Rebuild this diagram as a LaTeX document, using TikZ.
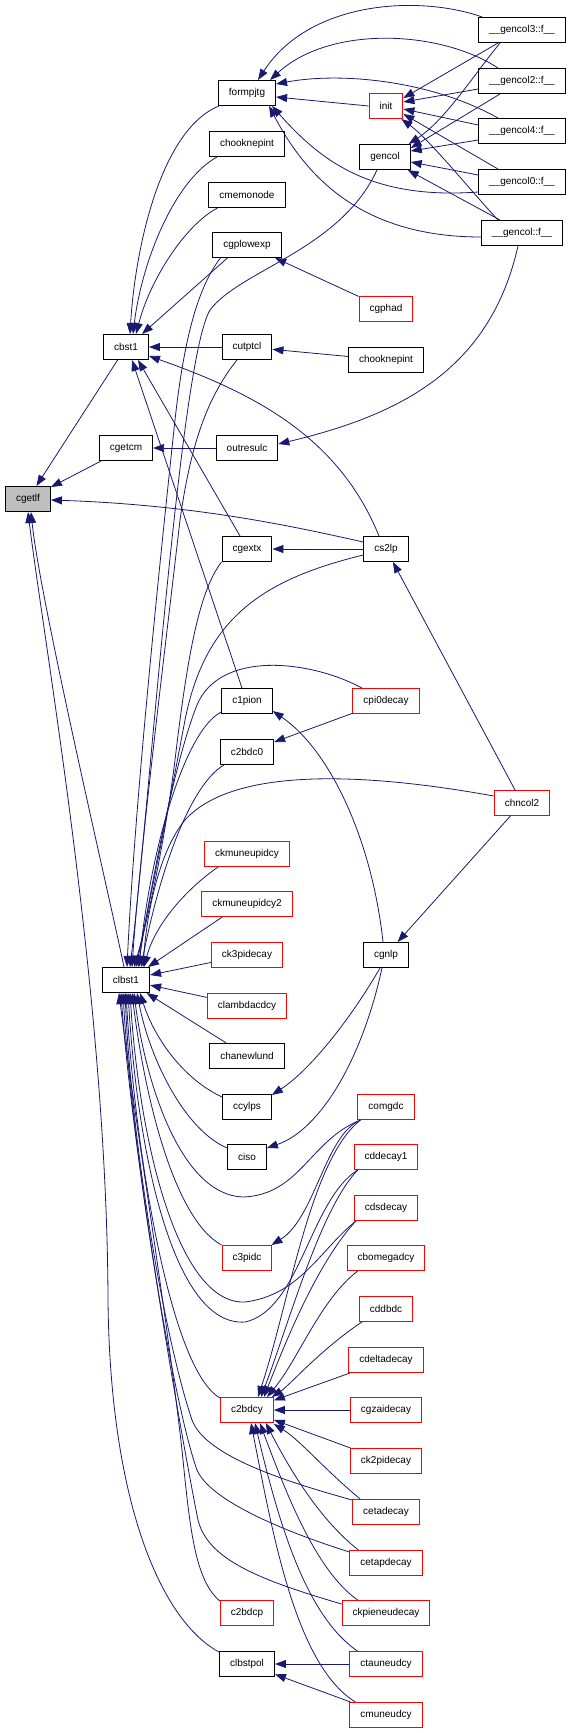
\documentclass[tikz,border=0pt]{standalone}
\usepackage{fontspec}
\setmainfont{Liberation Sans}
\usetikzlibrary{arrows.meta}
\definecolor{edgec}{HTML}{191970}
\definecolor{rootfill}{HTML}{BFBFBF}
\tikzset{
 box/.style={draw=black, line width=1pt, minimum height=25pt, inner xsep=10.5pt, inner ysep=0pt, font=\fontsize{10}{12}\selectfont, fill=white},
 redbox/.style={box, draw=red},
 e/.style={draw=edgec, line width=0.8pt, -{Triangle[length=11pt,width=8pt]}},
}
\begin{document}
\begin{tikzpicture}[x=1pt,y=-1pt]
\useasboundingbox (0,0) rectangle (572,1733);
% column 0/1
\node[box, fill=rootfill] (cgetlf) at (28,499) {cgetlf};
\node[box] (cbst1) at (126,347) {cbst1};
\node[box] (cgetcm) at (126,448) {cgetcm};
\node[box] (clbst1) at (126,980) {clbst1};
% column 2
\node[box] (formpjtg) at (247,93) {formpjtg};
\node[box] (chookA) at (247,144) {chooknepint};
\node[box] (cmemonode) at (247,195) {cmemonode};
\node[box] (cgplowexp) at (247,245) {cgplowexp};
\node[box] (cutptcl) at (247,347) {cutptcl};
\node[box] (outresulc) at (247,448) {outresulc};
\node[box] (cgextx) at (247,549) {cgextx};
\node[box] (c1pion) at (247,701) {c1pion};
\node[box] (c2bdc0) at (247,752) {c2bdc0};
\node[redbox] (ckmu) at (247,854) {ckmuneupidcy};
\node[redbox] (ckmu2) at (247,904) {ckmuneupidcy2};
\node[redbox] (ck3) at (247,955) {ck3pidecay};
\node[redbox] (clam) at (247,1006) {clambdacdcy};
\node[box] (chanewlund) at (247,1056) {chanewlund};
\node[box] (ccylps) at (247,1107) {ccylps};
\node[box] (ciso) at (247,1157) {ciso};
\node[redbox] (c3pidc) at (247,1258) {c3pidc};
\node[redbox] (c2bdcy) at (247,1410) {c2bdcy};
\node[redbox] (c2bdcp) at (247,1613) {c2bdcp};
\node[box] (clbstpol) at (247,1664) {clbstpol};
% column 3
\node[redbox] (init) at (386,106) {init};
\node[box] (gencol) at (385,157) {gencol};
\node[redbox] (cgphad) at (386,309) {cgphad};
\node[box] (chookB) at (386,360) {chooknepint};
\node[box] (cs2lp) at (386,549) {cs2lp};
\node[redbox] (cpi0decay) at (386,701) {cpi0decay};
\node[box] (cgnlp) at (386,955) {cgnlp};
\node[redbox] (comgdc) at (386,1107) {comgdc};
\node[redbox] (cdd1) at (386,1157) {cddecay1};
\node[redbox] (cds) at (386,1208) {cdsdecay};
\node[redbox] (cbom) at (386,1258) {cbomegadcy};
\node[redbox] (cddbdc) at (386,1309) {cddbdc};
\node[redbox] (cdelta) at (386,1360) {cdeltadecay};
\node[redbox] (cgzai) at (386,1410) {cgzaidecay};
\node[redbox] (ck2pi) at (386,1461) {ck2pidecay};
\node[redbox] (cetad) at (386,1512) {cetadecay};
\node[redbox] (cetap) at (386,1563) {cetapdecay};
\node[redbox] (ckpie) at (386,1613) {ckpieneudecay};
\node[redbox] (ctau) at (386,1664) {ctauneudcy};
\node[redbox] (cmu) at (386,1715) {cmuneudcy};
% column 4
\node[box] (g3) at (522,30) {\_\_gencol3::f\_\_};
\node[box] (g2) at (522,81) {\_\_gencol2::f\_\_};
\node[box] (g4) at (522,131) {\_\_gencol4::f\_\_};
\node[box] (g0) at (522,182) {\_\_gencol0::f\_\_};
\node[box] (gf) at (522,233) {\_\_gencol::f\_\_};
\node[redbox] (chncol2) at (522,803) {chncol2};

% ---- top cluster
\draw[e] ([xshift=4pt]g3.north west) .. controls (420,-5) and (310,0) .. ([xshift=11pt]formpjtg.north);
\draw[e] ([xshift=-24pt]g2.north) .. controls (440,30) and (330,25) .. ([xshift=-6pt]formpjtg.north east);
\draw[e] ([xshift=-24pt]g4.north) .. controls (430,80) and (340,72) .. ([yshift=9pt]formpjtg.east);
\draw[e] (init.west) -- ([yshift=-4pt]formpjtg.east);
\draw[e] ([yshift=3pt]g0.south west) .. controls (370,200) and (320,160) .. ([xshift=-4pt]formpjtg.south east);
\draw[e] ([yshift=-4pt]gf.west) .. controls (360,237) and (305,175) .. ([xshift=-7pt]formpjtg.south east);
\draw[e] ([xshift=-24pt]g3.south) -- ([yshift=8pt]init.east);
\draw[e] ([yshift=-8pt]g2.west) -- ([yshift=4pt]init.east);
\draw[e] ([yshift=6pt]g4.west) -- ([yshift=-3pt]init.east);
\draw[e] ([xshift=-24pt]g0.north) -- ([yshift=-8pt]init.east);
\draw[e] ([xshift=-24pt]gf.north) .. controls (470,190) and (430,140) .. ([xshift=-2pt]init.south east);
\draw[e] ([xshift=-22pt]g3.south) .. controls (470,80) and (445,120) .. ([xshift=-2pt]gencol.north east);
\draw[e] ([xshift=-22pt]g2.south) -- ([yshift=-4pt]gencol.north east);
\draw[e] ([yshift=-9pt]g4.west) -- ([yshift=6pt]gencol.east);
\draw[e] ([yshift=7pt]g0.west) -- ([yshift=-5pt]gencol.east);
\draw[e] ([xshift=-22pt]gf.north) -- ([xshift=-3pt]gencol.south east);
\draw[e] ([xshift=-4pt]gf.south) .. controls (490,370) and (400,415) .. ([yshift=4pt]outresulc.east);
\draw[e] ([xshift=-8pt]gencol.south) .. controls (340,250) and (240,270) .. (210,310) .. controls (180,360) and (150,800) .. ([xshift=4pt]clbst1.north);

% ---- into cbst1
\draw[e] ([xshift=1pt]formpjtg.south west) .. controls (160,130) and (135,250) .. ([xshift=4pt]cbst1.north);
\draw[e] ([xshift=8pt]chookA.south west) .. controls (175,180) and (142,260) .. ([xshift=7pt]cbst1.north);
\draw[e] ([xshift=9pt]cmemonode.south west) .. controls (185,225) and (150,280) .. ([xshift=10pt]cbst1.north);
\draw[e] ([xshift=15pt]cgplowexp.south west) -- ([xshift=16pt]cbst1.north);
\draw[e] ([xshift=8pt]cgplowexp.south west) .. controls (200,285) and (185,330) .. (175,420) .. controls (160,560) and (135,800) .. ([xshift=1pt]clbst1.north);
\draw[e] (cutptcl) -- (cbst1);
\draw[e] ([xshift=-10pt]cutptcl.south) .. controls (205,400) and (190,450) .. (180,520) .. controls (165,650) and (140,850) .. ([xshift=6pt]clbst1.north);
\draw[e] ([xshift=-7pt]cs2lp.north) .. controls (340,440) and (260,395) .. ([yshift=-9pt]cbst1.east);
\draw[e] ([xshift=-7pt]cgextx.north) -- ([xshift=12pt]cbst1.south);
\draw[e] ([xshift=-5pt]c1pion.north) -- ([xshift=6pt]cbst1.south);
\draw[e] (outresulc) -- (cgetcm);
\draw[e] (chookB) -- (cutptcl);
\draw[e] (cgphad) -- (cgplowexp);
\draw[e] (cbst1) -- (cgetlf);
\draw[e] (cgetcm) -- (cgetlf);
\draw[e] ([yshift=7pt]cs2lp.west) .. controls (300,528) and (200,505) .. ([yshift=-1pt]cgetlf.east);
\draw[e] (cs2lp) -- (cgextx);
\draw[e] ([yshift=-6pt]cs2lp.west) .. controls (260,580) and (205,620) .. (185,720) .. controls (170,800) and (150,900) .. ([xshift=10pt]clbst1.north);
\draw[e] (cgextx.south west) .. controls (200,590) and (188,650) .. (175,760) .. controls (165,840) and (148,920) .. ([xshift=8pt]clbst1.north);
\draw[e] ([xshift=-24pt]cpi0decay.north) .. controls (310,660) and (220,650) .. (197,705) .. controls (175,760) and (152,880) .. ([xshift=12pt]clbst1.north);
\draw[e] (cpi0decay) -- (c2bdc0);
\draw[e] ([yshift=-11pt]c1pion.west) .. controls (185,730) and (150,850) .. ([xshift=13pt]clbst1.north);
\draw[e] ([xshift=4pt]c2bdc0.south west) .. controls (190,785) and (160,870) .. ([xshift=15pt]clbst1.north);
\draw[e] ([yshift=7pt]chncol2.west) .. controls (350,770) and (230,770) .. (185,820) .. controls (160,850) and (147,910) .. ([xshift=17pt]clbst1.north);
\draw[e] (chncol2) -- (cs2lp);
\draw[e] (chncol2) -- (cgnlp);
\draw[e] ([xshift=-3pt]cgnlp.north) .. controls (372,840) and (330,750) .. ([yshift=-10pt]c1pion.east);
\draw[e] ([xshift=-6pt]cgnlp.south) .. controls (350,1020) and (310,1070) .. ([yshift=-1pt]ccylps.north east);
\draw[e] ([xshift=-4pt]cgnlp.south) .. controls (362,1060) and (320,1130) .. ([yshift=9pt]ciso.east);

% ---- middle into clbst1
\draw[e] ([xshift=14pt]ckmu.south west) .. controls (185,890) and (155,925) .. ([xshift=18pt]clbst1.north);
\draw[e] ([xshift=21pt]ckmu2.south west) -- ([xshift=-2pt]clbst1.north east);
\draw[e] (ck3) -- (clbst1);
\draw[e] (clam) -- (clbst1);
\draw[e] (chanewlund) -- (clbst1);
\draw[e] ([yshift=-3pt]ccylps.north west) .. controls (185,1080) and (155,1040) .. ([xshift=14pt]clbst1.south);
\draw[e] ([yshift=-4pt]ciso.north west) .. controls (185,1130) and (150,1060) .. ([xshift=11pt]clbst1.south);
\draw[e] ([xshift=3pt]comgdc.south west) .. controls (310,1140) and (300,1195) .. (243,1197) .. controls (180,1195) and (145,1080) .. ([xshift=8pt]clbst1.south);
\draw[e] ([xshift=3pt]comgdc.south west) .. controls (310,1160) and (290,1300) .. ([xshift=11pt]c2bdcy.north);
\draw[e] ([xshift=3pt]comgdc.south west) .. controls (325,1135) and (315,1218) .. ([xshift=-1pt]c3pidc.north east);
\draw[e] (c3pidc.north west) .. controls (175,1220) and (145,1100) .. ([xshift=6pt]clbst1.south);
\draw[e] ([xshift=4pt]cdd1.south west) .. controls (310,1200) and (300,1310) .. (245,1322) .. controls (175,1327) and (138,1160) .. ([xshift=2pt]clbst1.south);
\draw[e] ([xshift=4pt]cdd1.south west) .. controls (320,1210) and (290,1320) .. ([xshift=14pt]c2bdcy.north);
\draw[e] ([xshift=2pt]cds.south west) .. controls (320,1250) and (300,1295) .. (245,1302) .. controls (180,1305) and (140,1150) .. ([xshift=4pt]clbst1.south);
\draw[e] ([xshift=2pt]cds.south west) .. controls (320,1260) and (290,1330) .. ([xshift=17pt]c2bdcy.north);
\draw[e] ([yshift=-1pt]c2bdcy.north west) .. controls (170,1370) and (135,1150) .. (clbst1.south);
\draw[e] ([yshift=-1pt]cetad.north west) .. controls (280,1480) and (205,1455) .. (192,1420) .. controls (165,1340) and (132,1150) .. ([xshift=-1pt]clbst1.south);
\draw[e] ([yshift=-2pt]cetap.north west) .. controls (280,1530) and (210,1500) .. (197,1470) .. controls (172,1400) and (132,1150) .. ([xshift=-3pt]clbst1.south);
\draw[e] ([yshift=-4pt]ckpie.north west) .. controls (260,1580) and (208,1560) .. (198,1520) .. controls (178,1420) and (132,1150) .. ([xshift=-5pt]clbst1.south);
\draw[e] ([yshift=-1pt]c2bdcp.north west) .. controls (195,1580) and (190,1530) .. (182,1450) .. controls (165,1300) and (132,1100) .. ([xshift=-7pt]clbst1.south);
\draw[e] ([xshift=-2pt]clbst1.north) .. controls (108,890) and (40,600) .. ([xshift=3pt]cgetlf.south);
\draw[e] ([yshift=-1pt]clbstpol.north west) .. controls (160,1620) and (110,1500) .. (108,1300) .. controls (107,1000) and (45,650) .. (cgetlf.south);

% ---- into c2bdcy
\draw[e] ([xshift=11pt]cbom.south west) .. controls (320,1300) and (298,1360) .. ([xshift=20pt]c2bdcy.north);
\draw[e] ([xshift=3pt]cddbdc.south west) .. controls (320,1350) and (290,1385) .. ([xshift=-2pt]c2bdcy.north east);
\draw[e] (cdelta) -- (c2bdcy);
\draw[e] (cgzai) -- (c2bdcy);
\draw[e] (ck2pi) -- (c2bdcy);
\draw[e] ([xshift=8pt]cetad.north west) .. controls (325,1470) and (300,1440) .. ([yshift=-1pt]c2bdcy.south east);
\draw[e] ([xshift=9pt]cetap.north west) .. controls (320,1520) and (290,1470) .. ([xshift=-8pt]c2bdcy.south east);
\draw[e] ([xshift=16pt]ckpie.north west) .. controls (315,1570) and (285,1490) .. ([xshift=-14pt]c2bdcy.south east);
\draw[e] ([xshift=8pt]ctau.north west) .. controls (305,1615) and (278,1520) .. ([xshift=8pt]c2bdcy.south);
\draw[e] ([xshift=6pt]cmu.north west) .. controls (295,1665) and (272,1530) .. ([xshift=4pt]c2bdcy.south);
\draw[e] (ctau) -- (clbstpol);
\draw[e] (cmu) -- (clbstpol);
\end{tikzpicture}
\end{document}
